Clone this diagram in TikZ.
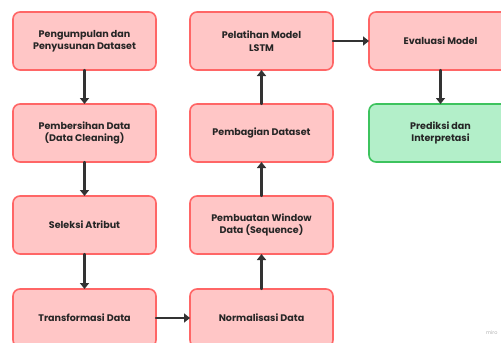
\documentclass[tikz,border=0pt]{standalone}
\usepackage{fontspec}
\setmainfont{Poppins}
\usetikzlibrary{positioning,arrows.meta}
\definecolor{boxfill}{HTML}{FFC6C6}
\definecolor{boxline}{HTML}{FF6666}
\definecolor{okfill}{HTML}{B3EFC9}
\definecolor{okline}{HTML}{3DC35E}
\definecolor{flowgray}{HTML}{333333}

\begin{document}
\begin{tikzpicture}[x=1bp, y=1bp, line cap=round, line join=round]
  % styles
  \tikzset{
    step box/.style={draw=boxline, fill=boxfill, line width=1.6bp, rounded corners=7bp,
      minimum width=143bp, minimum height=58bp, align=center, outer sep=0pt,
      font=\fontsize{9.6}{12.5}\selectfont\bfseries, text=black!85},
    done box/.style={step box, draw=okline, fill=okfill},
    flow/.style={draw=flowgray, line width=2.2bp, -{Triangle[length=6bp,width=9bp]}}
  }
  \useasboundingbox (0,0) rectangle (501,342);

  % ----- first column -----
  \node[step box] (kumpul) at (84.5,301) {Pengumpulan dan\\Penyusunan Dataset};
  \node[step box, below=34bp of kumpul] (bersih) {Pembersihan Data\\(Data Cleaning)};
  \node[step box, below=34bp of bersih] (seleksi) {Seleksi Atribut};
  \node[step box, below=35bp of seleksi] (transform) {Transformasi Data};

  % ----- second column (bottom up) -----
  \node[step box, right=34bp of transform] (normal) {Normalisasi Data};
  \node[step box, above=35bp of normal] (window) {Pembuatan Window\\Data (Sequence)};
  \node[step box, above=34bp of window] (bagi) {Pembagian Dataset};
  \node[step box, above=34bp of bagi] (latih) {Pelatihan Model\\LSTM};

  % ----- third column -----
  \node[step box, right=36bp of latih] (evaluasi) {Evaluasi Model};
  \node[done box, below=34bp of evaluasi] (prediksi) {Prediksi dan\\Interpretasi};

  % arrows
  \draw[flow] (kumpul) -- (bersih);
  \draw[flow] (bersih) -- (seleksi);
  \draw[flow] (seleksi) -- (transform);
  \draw[flow] (transform) -- (normal);
  \draw[flow] (normal) -- (window);
  \draw[flow] (window) -- (bagi);
  \draw[flow] (bagi) -- (latih);
  \draw[flow] (latih) -- (evaluasi);
  \draw[flow] (evaluasi) -- (prediksi);

  % watermark
  \node[text=black!30, font=\fontsize{5}{6}\selectfont, anchor=east] (miro) at (501,9) {miro};
\end{tikzpicture}
\end{document}
